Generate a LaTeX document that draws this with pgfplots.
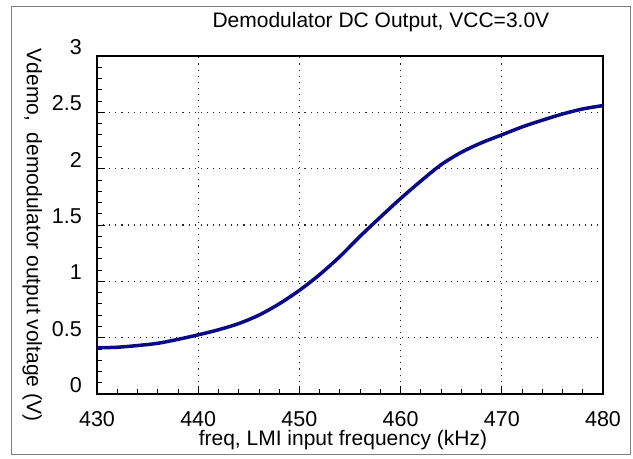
\documentclass[border=0pt]{standalone}
\usepackage{pgfplots}
\pgfplotsset{compat=1.18}
\usepackage{fontspec}
\setmainfont{Liberation Sans}
\definecolor{curve}{RGB}{10,10,135}
\begin{document}
\fontsize{21bp}{25bp}\selectfont
\begin{tikzpicture}[x=1bp,y=1bp]
\useasboundingbox (0,0) rectangle (633,459);
\draw[line width=1bp, black!50] (11,4) rectangle (630,452);
\begin{axis}[
  at={(97bp,65bp)}, anchor=south west,
  scale only axis, width=506bp, height=338bp,
  xmin=430, xmax=480, ymin=0, ymax=3,
  xtick={430,440,...,480}, ytick={0,0.5,...,3},
  yticklabels={0,0.5,1,1.5,2,2.5,3},
  minor x tick num=4, minor y tick num=4,
  tick align=inside,
  major tick length=8bp, minor tick length=5bp,
  xtick pos=bottom, ytick pos=left,
  axis line style={line width=2bp},
  every tick/.style={black, line width=0.8bp},
  grid=major,
  major grid style={black!85, line width=1.1bp, dash pattern=on 1.1bp off 5bp},
  /pgf/number format/assume math mode=true,
  tick label style={font=\fontsize{21.5bp}{25bp}\selectfont},
  yticklabel style={anchor=east, inner sep=0pt, xshift=-15bp, yshift=9bp},
  xticklabel style={anchor=north, inner sep=0pt, yshift=-17bp},
  title={Demodulator DC Output, VCC=3.0V},
  title style={at={(axis description cs:0.561,1.083)}, anchor=center, inner sep=0pt, font=\fontsize{21bp}{25bp}\selectfont},
  xlabel={freq, LMI input frequency (kHz)},
  xlabel style={at={(axis description cs:0.486,-0.136)}, anchor=center, inner sep=0pt},
  ylabel={Vdemo,\ \ demodulator output voltage (V)},
  ylabel style={at={(axis description cs:-0.128,0.470)}, anchor=center, rotate=180, inner sep=0pt},
  label style={font=\fontsize{21bp}{25bp}\selectfont},
  clip=true,
]
\addplot[curve, line width=3.5bp, smooth, tension=0.5] coordinates {
(430,0.41) (432,0.415) (434,0.43) (436,0.45) (438,0.485) (440,0.525)
(442,0.57) (444,0.625) (446,0.70) (448,0.80) (450,0.92) (452,1.06)
(454,1.22) (456,1.40) (458,1.57) (460,1.735) (462,1.89) (464,2.035)
(466,2.145) (468,2.23) (470,2.30) (472,2.37) (474,2.43) (476,2.485)
(478,2.53) (480,2.56)
};
\end{axis}
\end{tikzpicture}
\end{document}
